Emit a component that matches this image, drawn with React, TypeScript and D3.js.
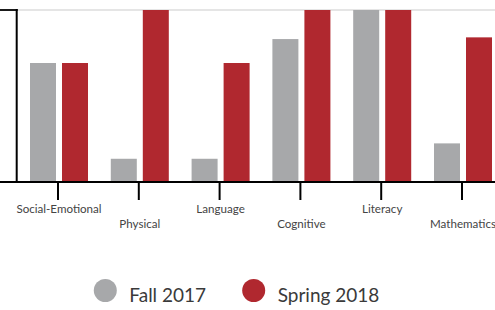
import { useEffect, useRef } from 'react'
import * as d3 from 'd3'

const W = 495
const H = 310

const categories = ['Social-Emotional', 'Physical', 'Language', 'Cognitive', 'Literacy', 'Mathematics']
const seriesNames = ['Fall 2017', 'Spring 2018']
const fall2017 = [69, 13, 13, 83, 100, 22]
const spring2018 = [69, 100, 69, 100, 100, 84]
const colors = ['#a7a8aa', '#b0282f']

export default function App() {
  const svgRef = useRef<SVGSVGElement>(null)

  useEffect(() => {
    if (!svgRef.current) return
    const svg = d3.select(svgRef.current)
    svg.selectAll('*').remove()

    const baseY = 181
    const x = d3.scaleBand<string>().domain(categories).range([18.6, 503.4]).padding(0)
    const xSub = d3.scaleBand<string>().domain(seriesNames).range([0, x.bandwidth()])
      .paddingInner(0.1875).paddingOuter(0.356)
    const y = d3.scaleLinear().domain([0, 100]).range([baseY, 10])

    // top gridline
    svg.append('line')
      .attr('x1', 17.7).attr('x2', W)
      .attr('y1', y(100)).attr('y2', y(100))
      .attr('stroke', '#e5e5e5').attr('stroke-width', 1.8)

    const data = categories.map((c, i) => ({ c, vals: [fall2017[i], spring2018[i]] }))

    const g = svg.append('g')
    data.forEach((d) => {
      d.vals.forEach((v, j) => {
        g.append('rect')
          .attr('x', x(d.c)! + xSub(seriesNames[j])!)
          .attr('y', y(v))
          .attr('width', xSub.bandwidth())
          .attr('height', baseY - y(v))
          .attr('fill', colors[j])
      })
    })

    // y axis
    svg.append('line')
      .attr('x1', 16.7).attr('x2', 16.7)
      .attr('y1', y(100) - 1).attr('y2', baseY + 1)
      .attr('stroke', '#000').attr('stroke-width', 2)
    svg.append('line')
      .attr('x1', 0).attr('x2', 17.7)
      .attr('y1', y(100)).attr('y2', y(100))
      .attr('stroke', '#000').attr('stroke-width', 1.8)

    // x axis
    svg.append('line')
      .attr('x1', 0).attr('x2', W)
      .attr('y1', baseY + 1).attr('y2', baseY + 1)
      .attr('stroke', '#000').attr('stroke-width', 1.8)

    categories.forEach((c, i) => {
      const cx = x(c)! + x.bandwidth() / 2 - 1
      svg.append('line')
        .attr('x1', cx).attr('x2', cx)
        .attr('y1', baseY + 1).attr('y2', 200)
        .attr('stroke', '#000').attr('stroke-width', 2)
      svg.append('text')
        .attr('x', cx + 1)
        .attr('y', i % 2 === 0 ? 212.5 : 228)
        .attr('text-anchor', 'middle')
        .attr('font-family', 'Lato, sans-serif')
        .attr('font-size', 11.6)
        .attr('fill', '#444')
        .text(c)
    })

    // legend
    const legendX = [105.3, 253.7]
    seriesNames.forEach((s, j) => {
      svg.append('circle')
        .attr('cx', legendX[j]).attr('cy', 290.5).attr('r', 11.5)
        .attr('fill', colors[j])
      svg.append('text')
        .attr('x', legendX[j] + 24)
        .attr('y', 301.5)
        .attr('font-family', 'Lato, sans-serif')
        .attr('font-size', 19)
        .attr('fill', '#3a3a3a')
        .text(s)
    })
  }, [])

  return (
    <svg
      ref={svgRef}
      width={W}
      height={H}
      style={{ position: 'absolute', left: 0, top: 0, display: 'block', background: '#fff' }}
    />
  )
}
